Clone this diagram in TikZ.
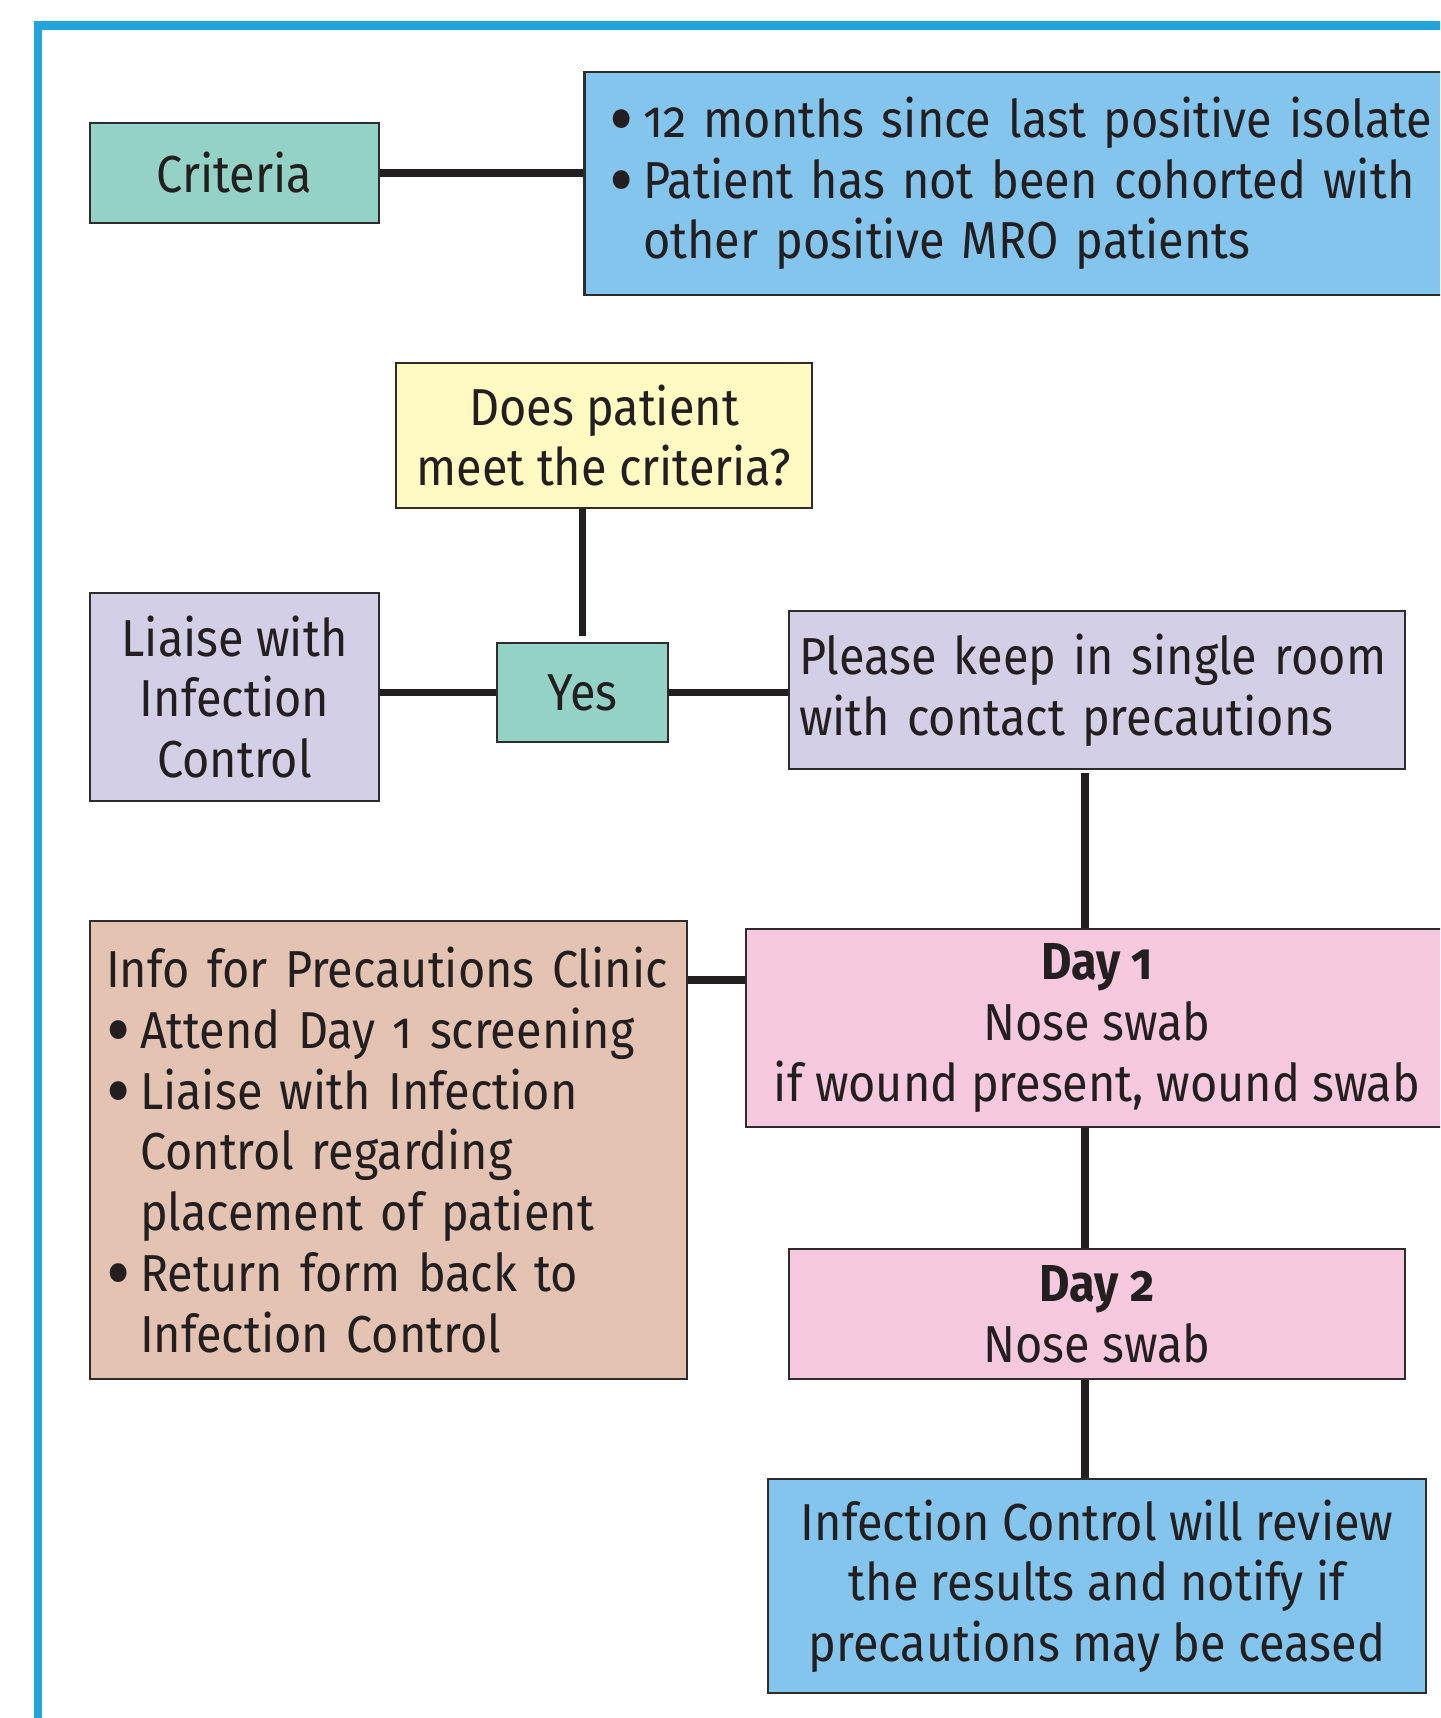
\documentclass[tikz,border=0pt]{standalone}
\usepackage{fontspec}
\setmainfont{Fira Sans}[Numbers=OldStyle, FakeStretch=0.9]
\usepackage{tikz}
\usetikzlibrary{positioning}
\usepackage{xcolor}
\definecolor{frameblue}{HTML}{22A3DC}
\definecolor{ink}{HTML}{231F20}
\definecolor{edge}{HTML}{2E2C2D}
\definecolor{mint}{HTML}{93D2C4}
\definecolor{sky}{HTML}{84C5ED}
\definecolor{lemon}{HTML}{FFF9C2}
\definecolor{lilac}{HTML}{D3CFE6}
\definecolor{blush}{HTML}{F6C9DE}
\definecolor{sand}{HTML}{E4C3B3}
\tikzset{%
	box/.style={
		draw=edge,
		line width=1.3pt,
		text=ink,
		inner sep=0pt,
		font=\fontsize{26}{30.35}\selectfont
	},
	centerbox/.style={
		box,
		align=center
	},
	listbox/.style={
		box,
		align=left
	},
	link/.style={
		draw=ink,
		line width=3.8pt
	},
	frame/.style={
		draw=frameblue,
		line width=4.2pt
	},
}
\newcommand{\bul}{\makebox[17pt][l]{\smash{\raisebox{-0.2em}{\scalebox{1.6}{\textbullet}}}}}
\newcommand{\hang}{\hspace*{17pt}}

\begin{document}
\begin{tikzpicture}[x=0.5pt,y=-0.5pt]
			\clip (0,0) rectangle (1440,1718);
			% Draw the frame
			\draw[frame] (38,25.5) rectangle (1520,1800);
			
			% Criteria row
			\node[centerbox, fill=mint, minimum width=144.5pt, minimum height=50pt] (criteria) at (234.5,173) {Criteria};
			\node[listbox, fill=sky, anchor=west, text width=413.5pt, inner xsep=12.5pt, minimum height=111.5pt] (crit list) at (583,183.5) {\bul 12 months since last positive isolate\\ \bul Patient has not been cohorted with\\ \hang other positive MRO patients};
			\draw[link] (criteria.east) -- (criteria.east -| crit list.west);
			
			% Question and answer
			\node[centerbox, fill=lemon, minimum width=208pt, minimum height=72.5pt] (question) at (604,435.5) {Does patient\\ meet the criteria?};
			\node[centerbox, fill=mint, minimum width=85.5pt, minimum height=49.5pt] (yes) at (582.5,692.5) {Yes};
			\draw[link, shorten >=3pt] (question.south -| yes.north) -- (yes.north);
			
			\node[centerbox, fill=lilac, minimum width=144.5pt, minimum height=104pt] (liaise) at (234.5,697) {Liaise with\\ Infection\\ Control};
			\node[listbox, fill=lilac, text width=298pt, inner xsep=5pt, minimum height=79pt] (keep) at (1097,690) {Please keep in single room\\ with contact precautions};
			\draw[link] (yes.west -| liaise.east) -- (yes.west);
			\draw[link] (yes.east) -- (yes.east -| keep.west);
			
			% Screening days
			\coordinate (spine) at (1085,0);
			\node[centerbox, fill=blush, minimum width=351pt, minimum height=99pt] (day1) at (1097,1028) {{\bfseries Day 1}\\ Nose swab\\ if wound present, wound swab};
			\node[listbox, fill=sand, text width=282.5pt, inner xsep=8pt, minimum height=229pt] (info) at (388.5,1150) {Info for Precautions Clinic\\ \bul Attend Day 1 screening\\ \bul Liaise with Infection\\ \hang Control regarding\\ \hang placement of patient\\ \bul Return form back to\\ \hang Infection Control};
			\node[centerbox, fill=blush, minimum width=308pt, minimum height=65pt] (day2) at (1097,1314) {{\bfseries Day 2}\\ Nose swab};
			\node[centerbox, fill=sky, minimum width=329pt, minimum height=107pt] (result) at (1097,1586) {Infection Control will review\\ the results and notify if\\ precautions may be ceased};
			
			\draw[link, shorten <=1.5pt] (keep.south -| spine) -- (day1.north -| spine);
			\draw[link] ([yshift=-26pt]day1.north west -| info.east) -- ([yshift=-26pt]day1.north west);
			\draw[link] (day1.south -| spine) -- (day2.north -| spine);
			\draw[link] (day2.south -| spine) -- (result.north -| spine);
			
\end{tikzpicture}
\end{document}
